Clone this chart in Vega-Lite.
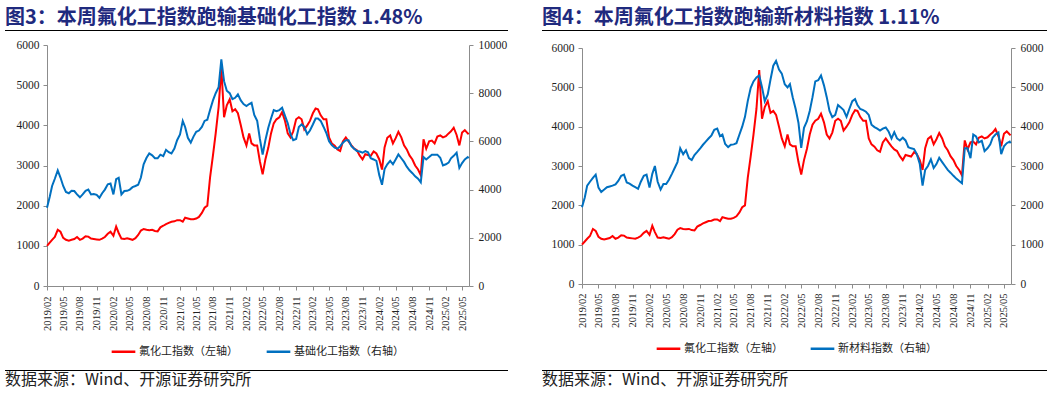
{
  "$schema": "https://vega.github.io/schema/vega-lite/v6.json",
  "background": "white",
  "padding": {"left": 5, "top": 8, "right": 0, "bottom": 7},
  "config": {
    "view": {"stroke": null},
    "font": "Noto Sans CJK SC",
    "axis": {"grid": false, "title": null, "domainColor": "#8c8c8c", "tickColor": "#8c8c8c", "labelColor": "#222222", "labelFont": "Liberation Serif", "tickSize": 4},
    "axisX": {"labelOverlap": false, "labelSeparation": 0, "labelFlush": false, "labelBound": false}
  },
  "datasets": {
    "one": [{"k": 1}],
    "idx": [
      {"d":"2019-02-01","f":1000,"j":3250,"x":1950},
      {"d":"2019-02-16","f":1080,"j":3700,"x":2200},
      {"d":"2019-03-01","f":1150,"j":4150,"x":2500},
      {"d":"2019-03-16","f":1220,"j":4450,"x":2600},
      {"d":"2019-04-01","f":1400,"j":4800,"x":2700},
      {"d":"2019-04-16","f":1350,"j":4500,"x":2780},
      {"d":"2019-05-01","f":1200,"j":4150,"x":2450},
      {"d":"2019-05-16","f":1150,"j":3900,"x":2340},
      {"d":"2019-06-01","f":1130,"j":3850,"x":2400},
      {"d":"2019-06-16","f":1150,"j":3950,"x":2460},
      {"d":"2019-07-01","f":1170,"j":3940,"x":2480},
      {"d":"2019-07-16","f":1220,"j":3800,"x":2500},
      {"d":"2019-08-01","f":1150,"j":3680,"x":2530},
      {"d":"2019-08-16","f":1180,"j":3800,"x":2620},
      {"d":"2019-09-01","f":1240,"j":3950,"x":2750},
      {"d":"2019-09-16","f":1230,"j":4000,"x":2780},
      {"d":"2019-10-01","f":1180,"j":3800,"x":2580},
      {"d":"2019-10-16","f":1170,"j":3820,"x":2550},
      {"d":"2019-11-01","f":1160,"j":3780,"x":2500},
      {"d":"2019-11-16","f":1150,"j":3660,"x":2460},
      {"d":"2019-12-01","f":1180,"j":3850,"x":2420},
      {"d":"2019-12-16","f":1220,"j":4000,"x":2600},
      {"d":"2020-01-01","f":1300,"j":4220,"x":2750},
      {"d":"2020-01-16","f":1350,"j":4250,"x":2780},
      {"d":"2020-02-01","f":1250,"j":3800,"x":2450},
      {"d":"2020-02-16","f":1480,"j":4430,"x":2800},
      {"d":"2020-03-01","f":1320,"j":4490,"x":3000},
      {"d":"2020-03-16","f":1180,"j":3800,"x":2600},
      {"d":"2020-04-01","f":1170,"j":3940,"x":2400},
      {"d":"2020-04-16","f":1190,"j":3950,"x":2540},
      {"d":"2020-05-01","f":1170,"j":4000,"x":2540},
      {"d":"2020-05-16","f":1150,"j":4100,"x":2650},
      {"d":"2020-06-01","f":1190,"j":4150,"x":2800},
      {"d":"2020-06-16","f":1270,"j":4200,"x":2950},
      {"d":"2020-07-01","f":1380,"j":4500,"x":3100},
      {"d":"2020-07-16","f":1420,"j":5050,"x":3450},
      {"d":"2020-08-01","f":1400,"j":5320,"x":3300},
      {"d":"2020-08-16","f":1390,"j":5500,"x":3400},
      {"d":"2020-09-01","f":1400,"j":5420,"x":3200},
      {"d":"2020-09-16","f":1370,"j":5300,"x":3150},
      {"d":"2020-10-01","f":1360,"j":5300,"x":3280},
      {"d":"2020-10-16","f":1460,"j":5450,"x":3360},
      {"d":"2020-11-01","f":1500,"j":5390,"x":3450},
      {"d":"2020-11-16","f":1540,"j":5650,"x":3540},
      {"d":"2020-12-01","f":1570,"j":5550,"x":3620},
      {"d":"2020-12-16","f":1600,"j":5500,"x":3700},
      {"d":"2021-01-01","f":1610,"j":5700,"x":3780},
      {"d":"2021-01-16","f":1640,"j":6050,"x":3920},
      {"d":"2021-02-01","f":1640,"j":6290,"x":3950},
      {"d":"2021-02-16","f":1600,"j":6850,"x":3760},
      {"d":"2021-03-01","f":1700,"j":6600,"x":3800},
      {"d":"2021-03-16","f":1680,"j":6150,"x":3560},
      {"d":"2021-04-01","f":1660,"j":5950,"x":3480},
      {"d":"2021-04-16","f":1660,"j":6200,"x":3540},
      {"d":"2021-05-01","f":1680,"j":6400,"x":3550},
      {"d":"2021-05-16","f":1720,"j":6450,"x":3580},
      {"d":"2021-06-01","f":1820,"j":6600,"x":3800},
      {"d":"2021-06-16","f":1950,"j":6850,"x":4000},
      {"d":"2021-07-01","f":2000,"j":6900,"x":4250},
      {"d":"2021-07-16","f":2700,"j":7300,"x":4650},
      {"d":"2021-08-01","f":3250,"j":7700,"x":4990},
      {"d":"2021-08-16","f":3800,"j":8000,"x":5150},
      {"d":"2021-09-01","f":4450,"j":8250,"x":5250},
      {"d":"2021-09-16","f":5440,"j":9400,"x":5300},
      {"d":"2021-10-01","f":4200,"j":8500,"x":5000},
      {"d":"2021-10-16","f":4500,"j":8100,"x":4650},
      {"d":"2021-11-01","f":4650,"j":8000,"x":4820},
      {"d":"2021-11-16","f":4350,"j":7750,"x":5200},
      {"d":"2021-12-01","f":4400,"j":7810,"x":5550},
      {"d":"2021-12-16","f":4300,"j":7950,"x":5670},
      {"d":"2022-01-01","f":4000,"j":7700,"x":5450},
      {"d":"2022-01-16","f":3700,"j":7550,"x":5350},
      {"d":"2022-02-01","f":3500,"j":7470,"x":5080},
      {"d":"2022-02-16","f":3800,"j":7550,"x":5000},
      {"d":"2022-03-01","f":3550,"j":7600,"x":5080},
      {"d":"2022-03-16","f":3500,"j":7100,"x":4750},
      {"d":"2022-04-01","f":3500,"j":6850,"x":4450},
      {"d":"2022-04-16","f":3100,"j":6100,"x":4100},
      {"d":"2022-05-01","f":2780,"j":5450,"x":3460},
      {"d":"2022-05-16","f":3150,"j":6050,"x":3970},
      {"d":"2022-06-01","f":3440,"j":6570,"x":4140},
      {"d":"2022-06-16","f":3800,"j":6950,"x":4400},
      {"d":"2022-07-01","f":4050,"j":7300,"x":4750},
      {"d":"2022-07-16","f":4150,"j":7250,"x":5150},
      {"d":"2022-08-01","f":4200,"j":7300,"x":5180},
      {"d":"2022-08-16","f":4330,"j":7400,"x":5300},
      {"d":"2022-09-01","f":4110,"j":7060,"x":5050},
      {"d":"2022-09-16","f":3800,"j":6750,"x":4750},
      {"d":"2022-10-01","f":3700,"j":6300,"x":4400},
      {"d":"2022-10-16","f":3850,"j":6050,"x":4240},
      {"d":"2022-11-01","f":4150,"j":6100,"x":4300},
      {"d":"2022-11-16","f":4200,"j":6600,"x":4550},
      {"d":"2022-12-01","f":4150,"j":6710,"x":4490},
      {"d":"2022-12-16","f":3900,"j":6600,"x":4420},
      {"d":"2023-01-01","f":4000,"j":6300,"x":4250},
      {"d":"2023-01-16","f":4110,"j":6450,"x":4450},
      {"d":"2023-02-01","f":4300,"j":6700,"x":4650},
      {"d":"2023-02-16","f":4420,"j":6950,"x":4700},
      {"d":"2023-03-01","f":4400,"j":6950,"x":4550},
      {"d":"2023-03-16","f":4250,"j":6850,"x":4450},
      {"d":"2023-04-01","f":4150,"j":6600,"x":4420},
      {"d":"2023-04-16","f":4150,"j":6350,"x":4380},
      {"d":"2023-05-01","f":3700,"j":6000,"x":4300},
      {"d":"2023-05-16","f":3550,"j":5850,"x":4050},
      {"d":"2023-06-01","f":3490,"j":5740,"x":3990},
      {"d":"2023-06-16","f":3400,"j":5700,"x":3950},
      {"d":"2023-07-01","f":3360,"j":5800,"x":3900},
      {"d":"2023-07-16","f":3600,"j":5950,"x":3950},
      {"d":"2023-08-01","f":3700,"j":6050,"x":3980},
      {"d":"2023-08-16","f":3600,"j":6050,"x":3880},
      {"d":"2023-09-01","f":3500,"j":5800,"x":3700},
      {"d":"2023-09-16","f":3420,"j":5700,"x":3860},
      {"d":"2023-10-01","f":3380,"j":5600,"x":3700},
      {"d":"2023-10-16","f":3250,"j":5580,"x":3650},
      {"d":"2023-11-01","f":3150,"j":5530,"x":3720},
      {"d":"2023-11-16","f":3280,"j":5600,"x":3650},
      {"d":"2023-12-01","f":3260,"j":5550,"x":3480},
      {"d":"2023-12-16","f":3240,"j":5300,"x":3450},
      {"d":"2024-01-01","f":3350,"j":5250,"x":3430},
      {"d":"2024-01-16","f":3300,"j":5190,"x":3300},
      {"d":"2024-02-01","f":3150,"j":4600,"x":3050},
      {"d":"2024-02-16","f":2900,"j":4200,"x":2500},
      {"d":"2024-03-01","f":3450,"j":4850,"x":2900},
      {"d":"2024-03-16","f":3690,"j":5050,"x":3000},
      {"d":"2024-04-01","f":3750,"j":5190,"x":3170},
      {"d":"2024-04-16","f":3550,"j":5050,"x":2950},
      {"d":"2024-05-01","f":3680,"j":5250,"x":3050},
      {"d":"2024-05-16","f":3840,"j":5460,"x":3210},
      {"d":"2024-06-01","f":3700,"j":5300,"x":3100},
      {"d":"2024-06-16","f":3500,"j":5150,"x":3000},
      {"d":"2024-07-01","f":3400,"j":4950,"x":2900},
      {"d":"2024-07-16","f":3250,"j":4800,"x":2830},
      {"d":"2024-08-01","f":3150,"j":4680,"x":2750},
      {"d":"2024-08-16","f":3000,"j":4550,"x":2680},
      {"d":"2024-09-01","f":2900,"j":4450,"x":2620},
      {"d":"2024-09-16","f":2760,"j":4300,"x":2560},
      {"d":"2024-10-01","f":3650,"j":5350,"x":3450},
      {"d":"2024-10-16","f":3420,"j":5250,"x":3450},
      {"d":"2024-11-01","f":3600,"j":5350,"x":3200},
      {"d":"2024-11-16","f":3620,"j":5450,"x":3800},
      {"d":"2024-12-01","f":3550,"j":5450,"x":3750},
      {"d":"2024-12-16","f":3720,"j":5450,"x":3600},
      {"d":"2025-01-01","f":3750,"j":5320,"x":3640},
      {"d":"2025-01-16","f":3700,"j":5000,"x":3380},
      {"d":"2025-02-01","f":3730,"j":5050,"x":3450},
      {"d":"2025-02-16","f":3800,"j":5120,"x":3550},
      {"d":"2025-03-01","f":3850,"j":5300,"x":3720},
      {"d":"2025-03-16","f":3940,"j":5400,"x":3800},
      {"d":"2025-04-01","f":3760,"j":5530,"x":3850},
      {"d":"2025-04-16","f":3500,"j":4900,"x":3300},
      {"d":"2025-05-01","f":3820,"j":5100,"x":3500},
      {"d":"2025-05-16","f":3880,"j":5250,"x":3580},
      {"d":"2025-06-01","f":3800,"j":5350,"x":3620},
      {"d":"2025-06-06","f":3780,"j":5300,"x":3580}
    ]
  },
  "resolve": {"scale": {"color": "independent"}, "legend": {"color": "independent"}},
  "spacing": 34,
  "hconcat": [
    {
      "spacing": 8,
      "resolve": {"scale": {"color": "independent"}, "legend": {"color": "independent"}},
      "vconcat": [
        {
          "width": 503, "height": 1,
          "title": {"text": "图3：本周氟化工指数跑输基础化工指数 1.48%", "anchor": "start", "fontSize": 20, "fontWeight": "bold", "color": "#1f2a7e", "font": "Noto Sans CJK SC", "offset": 2},
          "data": {"name": "one"},
          "mark": {"type": "rect", "color": "#000000"},
          "encoding": {}
        },
        {
          "spacing": 0,
          "resolve": {"scale": {"color": "independent"}, "legend": {"color": "independent"}},
          "hconcat": [
            {"width": 1, "height": 1, "data": {"values": []}, "mark": "text", "encoding": {}},
            {
              "width": 422, "height": 241,
              "data": {"name": "idx"},
              "resolve": {"scale": {"y": "independent"}},
              "layer": [
                {
                  "mark": {"type": "line", "strokeWidth": 2, "color": "#ff0000"},
                  "encoding": {
                    "x": {"field": "d", "type": "temporal",
                      "scale": {"type": "utc", "domain": [1548979200000, 1749340800000]},
                      "axis": {"format": "%Y/%m", "labelAngle": 270, "labelFontSize": 10.5, "labelPadding": 6, "tickCount": 40, "labelOverlap": false,
                        "values": [1548979200000,1556668800000,1564617600000,1572566400000,1580515200000,1588291200000,1596240000000,1604188800000,1612137600000,1619827200000,1627776000000,1635724800000,1643673600000,1651363200000,1659312000000,1667260800000,1675209600000,1682899200000,1690848000000,1698796800000,1706745600000,1714521600000,1722470400000,1730419200000,1738368000000,1746057600000]}},
                    "y": {"field": "f", "type": "quantitative", "scale": {"domain": [0, 6000]},
                      "axis": {"orient": "left", "values": [0,1000,2000,3000,4000,5000,6000], "format": "d", "labelFontSize": 11.5, "labelPadding": 4, "minExtent": 41}},
                    "color": {"datum": "氟化工指数（左轴）", "type": "nominal",
                      "scale": {"domain": ["氟化工指数（左轴）", "基础化工指数（右轴）"], "range": ["#ff0000", "#0070c0"]},
                      "legend": {"orient": "none", "legendX": 58, "legendY": 288, "direction": "horizontal", "title": null, "symbolType": "stroke", "symbolSize": 560, "symbolStrokeWidth": 2.5, "labelFont": "Noto Sans CJK SC", "labelFontSize": 11, "labelColor": "#222222", "labelOffset": 2, "columnPadding": 23, "padding": 5}}
                  }
                },
                {
                  "mark": {"type": "line", "strokeWidth": 2, "color": "#0070c0"},
                  "encoding": {
                    "x": {"field": "d", "type": "temporal", "axis": {"labelOverlap": false, "tickCount": 40}},
                    "y": {"field": "j", "type": "quantitative", "scale": {"domain": [0, 10000]},
                      "axis": {"orient": "right", "values": [0,2000,4000,6000,8000,10000], "format": "d", "labelFontSize": 11.5, "labelPadding": 5, "minExtent": 39}},
                    "color": {"datum": "基础化工指数（右轴）", "type": "nominal"}
                  }
                }
              ]
            }
          ]
        },
        {
          "width": 503, "height": 1,
          "title": {"text": "数据来源：Wind、开源证券研究所", "orient": "bottom", "anchor": "start", "fontSize": 16, "fontWeight": "normal", "color": "#222222", "font": "Noto Sans CJK SC", "offset": 1},
          "data": {"name": "one"},
          "mark": {"type": "rect", "color": "#000000"},
          "encoding": {}
        }
      ]
    },
    {
      "spacing": 11,
      "resolve": {"scale": {"color": "independent"}, "legend": {"color": "independent"}},
      "vconcat": [
        {
          "width": 505, "height": 1,
          "title": {"text": "图4：本周氟化工指数跑输新材料指数 1.11%", "anchor": "start", "fontSize": 20, "fontWeight": "bold", "color": "#1f2a7e", "font": "Noto Sans CJK SC", "offset": 2},
          "data": {"name": "one"},
          "mark": {"type": "rect", "color": "#000000"},
          "encoding": {}
        },
        {
          "spacing": 0,
          "resolve": {"scale": {"color": "independent"}, "legend": {"color": "independent"}},
          "hconcat": [
            {"width": 1, "height": 1, "data": {"values": []}, "mark": "text", "encoding": {}},
            {
              "width": 429, "height": 236,
              "data": {"name": "idx"},
              "resolve": {"scale": {"y": "independent"}},
              "layer": [
                {
                  "mark": {"type": "line", "strokeWidth": 2, "color": "#ff0000"},
                  "encoding": {
                    "x": {"field": "d", "type": "temporal",
                      "scale": {"type": "utc", "domain": [1548979200000, 1749340800000]},
                      "axis": {"format": "%Y/%m", "labelAngle": 270, "labelFontSize": 10.5, "labelPadding": 5, "tickCount": 40, "labelOverlap": false,
                        "values": [1548979200000,1556668800000,1564617600000,1572566400000,1580515200000,1588291200000,1596240000000,1604188800000,1612137600000,1619827200000,1627776000000,1635724800000,1643673600000,1651363200000,1659312000000,1667260800000,1675209600000,1682899200000,1690848000000,1698796800000,1706745600000,1714521600000,1722470400000,1730419200000,1738368000000,1746057600000]}},
                    "y": {"field": "f", "type": "quantitative", "scale": {"domain": [0, 6000]},
                      "axis": {"orient": "left", "values": [0,1000,2000,3000,4000,5000,6000], "format": "d", "labelFontSize": 11.5, "labelPadding": 4, "minExtent": 39}},
                    "color": {"datum": "氟化工指数（左轴）", "type": "nominal",
                      "scale": {"domain": ["氟化工指数（左轴）", "新材料指数（右轴）"], "range": ["#ff0000", "#0070c0"]},
                      "legend": {"orient": "none", "legendX": 68, "legendY": 282, "direction": "horizontal", "title": null, "symbolType": "stroke", "symbolSize": 560, "symbolStrokeWidth": 2.5, "labelFont": "Noto Sans CJK SC", "labelFontSize": 11, "labelColor": "#222222", "labelOffset": 2, "columnPadding": 22, "padding": 5}}
                  }
                },
                {
                  "mark": {"type": "line", "strokeWidth": 2, "color": "#0070c0"},
                  "encoding": {
                    "x": {"field": "d", "type": "temporal", "axis": {"labelOverlap": false, "tickCount": 40}},
                    "y": {"field": "x", "type": "quantitative", "scale": {"domain": [0, 6000]},
                      "axis": {"orient": "right", "values": [0,1000,2000,3000,4000,5000,6000], "format": "d", "labelFontSize": 11.5, "labelPadding": 5, "minExtent": 36}},
                    "color": {"datum": "新材料指数（右轴）", "type": "nominal"}
                  }
                }
              ]
            }
          ]
        },
        {
          "width": 505, "height": 1,
          "title": {"text": "数据来源：Wind、开源证券研究所", "orient": "bottom", "anchor": "start", "fontSize": 16, "fontWeight": "normal", "color": "#222222", "font": "Noto Sans CJK SC", "offset": 1},
          "data": {"name": "one"},
          "mark": {"type": "rect", "color": "#000000"},
          "encoding": {}
        }
      ]
    }
  ]
}
